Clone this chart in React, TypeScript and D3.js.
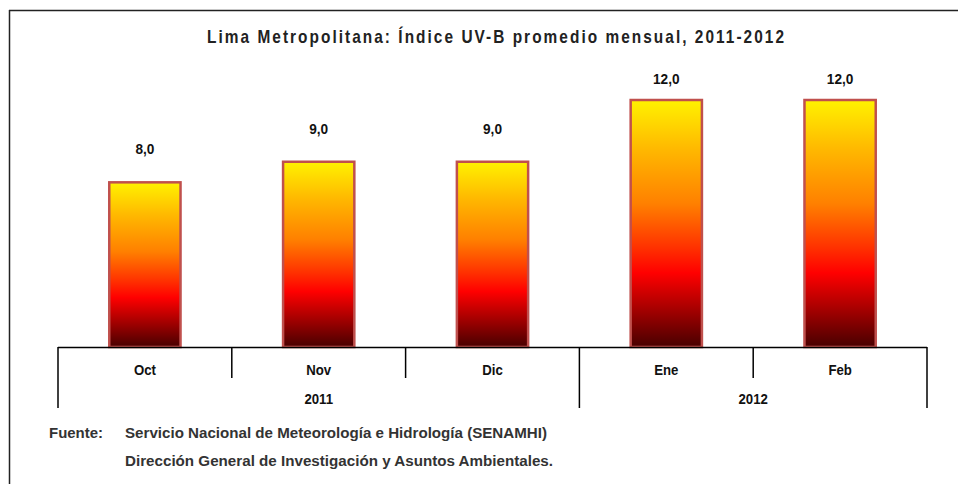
import React from "react";
import * as d3 from "d3";

const months = ["Oct", "Nov", "Dic", "Ene", "Feb"];
const values = [8.0, 9.0, 9.0, 12.0, 12.0];
const yearLabels = ["2011", "2012"];
const yearSpans = [3, 2];
const title = "Lima Metropolitana: Índice UV-B promedio mensual, 2011-2012";
const sourceLabel = "Fuente:";
const sourceLines = [
  "Servicio Nacional de Meteorología e Hidrología (SENAMHI)",
  "Dirección General de Investigación y Asuntos Ambientales.",
];
const sourceWidths = [422, 428];

const W = 959;
const H = 484;
const FONT = "'Liberation Sans', Arial, sans-serif";
const SX = 0.88;

function CText(props: {
  x: number;
  y: number;
  size: number;
  anchor?: string;
  fill?: string;
  children: React.ReactNode;
}) {
  return (
    <text
      transform={`translate(${props.x},${props.y}) scale(${SX},1)`}
      textAnchor={props.anchor || "middle"}
      fontFamily={FONT}
      fontWeight="bold"
      fontSize={props.size}
      fill={props.fill || "#111"}
    >
      {props.children}
    </text>
  );
}

export default function App() {
  const x0 = 58;
  const x1 = 927;
  const baseY = 347;
  const x = d3.scaleBand<string>().domain(months).range([x0, x1]).padding(0);
  const y = d3.scaleLinear().domain([0, 12]).range([baseY, 100]);
  const barW = x.bandwidth() * 0.41;
  const fmt = (v: number) => d3.format(".1f")(v).replace(".", ",");

  let acc = 0;
  const groups = yearLabels.map((lab, i) => {
    const start = acc;
    acc += yearSpans[i];
    const xs = x(months[start])!;
    const xe = x(months[acc - 1])! + x.bandwidth();
    return { lab, xs, xe };
  });

  return (
    <div style={{ position: "absolute", left: 0, top: 0 }}>
      <svg width={W} height={H} style={{ display: "block", background: "#fff" }}>
        <defs>
          <linearGradient id="uvgrad" x1="0" y1="0" x2="0" y2="1">
            <stop offset="0%" stopColor="#FFF200" />
            <stop offset="20%" stopColor="#FFB800" />
            <stop offset="42%" stopColor="#FF8000" />
            <stop offset="60%" stopColor="#FF3000" />
            <stop offset="70%" stopColor="#FF0000" />
            <stop offset="83%" stopColor="#B00000" />
            <stop offset="100%" stopColor="#480000" />
          </linearGradient>
        </defs>
        <line x1={9} y1={10.5} x2={958} y2={10.5} stroke="#222" strokeWidth={1.5} />
        <line x1={9.5} y1={10} x2={9.5} y2={H} stroke="#222" strokeWidth={1.5} />

        <text
          transform={`translate(207,43) scale(${SX},1)`}
          fontFamily={FONT}
          fontWeight="bold"
          fontSize={17.5}
          fill="#222"
          textLength={577 / SX}
          lengthAdjust="spacing"
        >
          {title}
        </text>

        {months.map((m, i) => {
          const cx = x(m)! + x.bandwidth() / 2;
          const top = y(values[i]);
          const ly = Math.max(top - 28, 84);
          return (
            <g key={m}>
              <rect x={cx - barW / 2} y={top} width={barW} height={baseY - top} fill="url(#uvgrad)" stroke="#C0504D" strokeWidth={2.5} />
              <CText x={cx} y={ly} size={15.5}>{fmt(values[i])}</CText>
              <CText x={cx} y={374.5} size={15}>{m}</CText>
            </g>
          );
        })}

        <line x1={x0} y1={baseY + 0.5} x2={x1} y2={baseY + 0.5} stroke="#000" strokeWidth={1.5} />
        {months.slice(1).map((m) => {
          const xx = x(m)!;
          const isGroup = groups.some((g) => Math.abs(g.xs - xx) < 0.5);
          return isGroup ? null : (
            <line key={"s" + m} x1={xx} y1={baseY} x2={xx} y2={378} stroke="#000" strokeWidth={1.5} />
          );
        })}
        {groups.map((g, i) => (
          <g key={g.lab}>
            <line x1={g.xs} y1={baseY} x2={g.xs} y2={408} stroke="#000" strokeWidth={1.5} />
            {i === groups.length - 1 && (
              <line x1={g.xe} y1={baseY} x2={g.xe} y2={408} stroke="#000" strokeWidth={1.5} />
            )}
            <CText x={(g.xs + g.xe) / 2} y={404} size={15}>{g.lab}</CText>
          </g>
        ))}

        <text x={49} y={438} fontFamily={FONT} fontWeight="bold" fontSize={14.5} fill="#333" textLength={54} lengthAdjust="spacingAndGlyphs">
          {sourceLabel}
        </text>
        {sourceLines.map((s, i) => (
          <text
            key={i}
            x={125}
            y={438 + i * 28}
            fontFamily={FONT}
            fontWeight="bold"
            fontSize={14.5}
            fill="#333"
            textLength={sourceWidths[i]}
            lengthAdjust="spacingAndGlyphs"
          >
            {s}
          </text>
        ))}
      </svg>
    </div>
  );
}
